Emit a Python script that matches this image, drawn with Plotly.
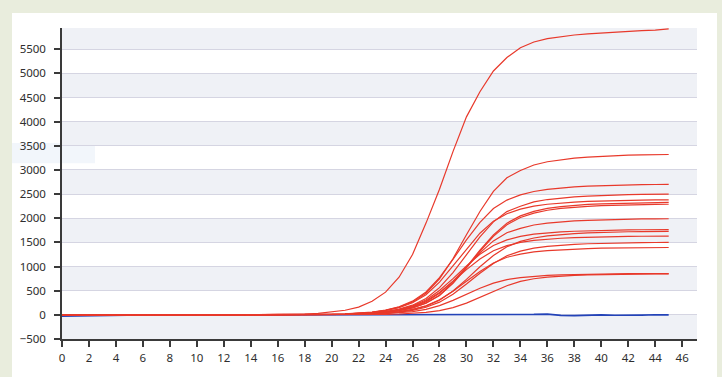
import plotly.graph_objects as go

cycles = list(range(46))

# Amplification curves (fluorescence per cycle)
curve_01 = [-12, -8, -5, -3, -2, -1, 0, 1, 0, -1, 0, 1, 2, 3, 4, 6, 8, 10, 15, 30,
            55, 95, 160, 280, 470, 780, 1250, 1900, 2600, 3380, 4100, 4620, 5050, 5330, 5530, 5650,
            5720, 5765, 5795, 5820, 5840, 5858, 5872, 5885, 5898, 5920]
curve_02 = [-10, -7, -5, -3, -2, -1, 0, 0, 1, 0, 0, 1, 1, 1, 2, 2, 3, 3, 3, 6,
            10, 17, 30, 53, 93, 159, 266, 448, 747, 1162, 1660, 2141, 2556, 2839, 2988, 3104,
            3171, 3214, 3244, 3267, 3283, 3297, 3307, 3313, 3317, 3320]
curve_03 = [-10, -7, -5, -3, -2, -1, 0, 0, 1, 0, 0, 1, 1, 1, 2, 2, 3, 3, 4, 7,
            11, 19, 32, 57, 100, 167, 284, 473, 770, 1148, 1553, 1917, 2201, 2376, 2484, 2554,
            2597, 2627, 2649, 2665, 2676, 2687, 2692, 2696, 2699, 2700]
curve_04 = [-10, -7, -5, -3, -2, -1, 0, 0, 1, 0, 0, 1, 1, 1, 2, 2, 3, 3, 3, 5,
            8, 13, 23, 40, 70, 120, 200, 338, 563, 875, 1250, 1613, 1925, 2138, 2250, 2338,
            2388, 2420, 2443, 2460, 2473, 2483, 2490, 2495, 2498, 2500]
curve_05 = [-10, -7, -5, -3, -2, -1, 0, 0, 1, 0, 0, 1, 1, 1, 2, 2, 3, 3, 4, 7,
            10, 17, 29, 50, 88, 148, 250, 417, 678, 1012, 1369, 1690, 1940, 2094, 2190, 2251,
            2290, 2316, 2335, 2349, 2359, 2368, 2373, 2376, 2379, 2380]
curve_06 = [-10, -7, -5, -3, -2, -1, 0, 0, 1, 0, 0, 1, 1, 1, 2, 2, 3, 3, 2, 3,
            5, 9, 16, 28, 49, 86, 144, 245, 408, 664, 990, 1340, 1654, 1899, 2050, 2144,
            2204, 2241, 2267, 2286, 2300, 2309, 2318, 2323, 2327, 2330]
curve_07 = [-10, -7, -5, -3, -2, -1, 0, 0, 1, 0, 0, 1, 1, 1, 2, 2, 3, 3, 2, 3,
            5, 9, 16, 27, 48, 85, 142, 240, 401, 653, 973, 1317, 1626, 1866, 2015, 2107,
            2166, 2203, 2228, 2246, 2260, 2269, 2279, 2283, 2287, 2290]
curve_08 = [-10, -7, -5, -3, -2, -1, 0, 0, 1, 0, 0, 1, 1, 1, 2, 2, 3, 3, 2, 4,
            6, 10, 18, 32, 56, 96, 159, 269, 448, 697, 995, 1284, 1532, 1701, 1791, 1861,
            1900, 1926, 1944, 1958, 1968, 1976, 1982, 1986, 1988, 1990]
curve_09 = [-10, -7, -5, -3, -2, -1, 0, 0, 1, 0, 0, 1, 1, 1, 2, 2, 3, 3, 3, 5,
            7, 12, 21, 37, 65, 109, 185, 309, 503, 750, 1015, 1253, 1438, 1553, 1624, 1670,
            1698, 1717, 1731, 1742, 1749, 1756, 1760, 1762, 1764, 1765]
curve_10 = [-10, -7, -5, -3, -2, -1, 0, 0, 1, 0, 0, 1, 1, 1, 2, 2, 3, 3, 1, 2,
            3, 7, 12, 21, 36, 64, 107, 182, 303, 493, 735, 995, 1228, 1410, 1522, 1592,
            1637, 1664, 1683, 1697, 1708, 1714, 1721, 1725, 1727, 1730]
curve_11 = [-10, -7, -5, -3, -2, -1, 0, 0, 1, 0, 0, 1, 1, 1, 2, 2, 3, 3, 2, 4,
            7, 11, 20, 34, 60, 101, 171, 285, 465, 693, 937, 1157, 1328, 1434, 1500, 1542,
            1568, 1586, 1599, 1609, 1615, 1622, 1625, 1628, 1629, 1630]
curve_12 = [-10, -7, -5, -3, -2, -1, 0, 0, 1, 0, 0, 1, 1, 1, 2, 2, 3, 3, 1, 2,
            3, 6, 11, 18, 32, 56, 93, 158, 263, 428, 638, 863, 1065, 1223, 1320, 1380,
            1419, 1443, 1460, 1472, 1481, 1487, 1493, 1496, 1498, 1500]
curve_13 = [-10, -7, -5, -3, -2, -1, 0, 0, 1, 0, 0, 1, 1, 1, 2, 2, 3, 3, 1, 2,
            4, 7, 13, 22, 39, 67, 112, 188, 314, 488, 698, 900, 1074, 1193, 1256, 1304,
            1332, 1350, 1363, 1373, 1380, 1385, 1389, 1392, 1394, 1395]
curve_14 = [-10, -7, -5, -3, -2, -1, 0, 0, 1, 0, 0, 1, 1, 1, 2, 2, 3, 3, 1, 2,
            3, 4, 8, 14, 24, 41, 68, 115, 192, 299, 428, 551, 658, 731, 770, 799,
            817, 828, 835, 841, 846, 849, 852, 853, 854, 855]
curve_15 = [-10, -7, -5, -3, -2, -1, 0, 0, 1, 0, 0, 1, 1, 1, 2, 2, 3, 3, 0, 1,
            1, 2, 3, 6, 10, 18, 31, 53, 89, 149, 242, 361, 489, 604, 693, 748,
            782, 804, 818, 827, 834, 839, 842, 846, 847, 849]
negative_ctrl = [-28, -22, -15, -10, -6, -4, -3, -2, -2, -1, 0, -1, 0, 1, -2, -1, 0, 1, 0, -1,
                 0, 1, 2, 1, 0, -1, 0, 1, 2, 0, -1, 1, 2, 3, 5, 8, 15, -10, -15, -5,
                 0, -8, -12, -5, 2, 0]

red_curves = [curve_01, curve_02, curve_03, curve_04, curve_05, curve_06, curve_07, curve_08,
              curve_09, curve_10, curve_11, curve_12, curve_13, curve_14, curve_15]

y_ticks = list(range(-500, 6000, 500))
x_ticks = list(range(0, 47, 2))
y_range = [-500, 5940]
x_range = [0, 47.1]

RED = "#e8392b"
BLUE = "#2343b8"
GREEN_BG = "#e9eddd"

fig = go.Figure()
fig.add_trace(go.Scatter(x=cycles, y=negative_ctrl, mode="lines",
                         line=dict(color=BLUE, width=1.7), showlegend=False))
for c in red_curves:
    fig.add_trace(go.Scatter(x=cycles, y=c, mode="lines",
                             line=dict(color=RED, width=1.2), showlegend=False))

shapes = []
# outer white panel
shapes.append(dict(type="rect", xref="paper", yref="paper", x0=-0.0787, x1=1.0315,
                   y0=-0.2, y1=1.048, fillcolor="white", line=dict(width=0), layer="below"))
# faint highlight near left labels
shapes.append(dict(type="rect", xref="paper", yref="paper", x0=-0.0787, x1=0.052,
                   y0=0.565, y1=0.63, fillcolor="#f2f6fb", line=dict(width=0), layer="below"))
# corner triangle decoration
shapes.append(dict(type="path", xref="paper", yref="paper",
                   path="M 1.0425 1.0895 L 1.0535 1.0895 L 1.0535 1.062 Z",
                   fillcolor="#c9dcaa", line=dict(width=0), layer="below"))
# alternating bands
for v in y_ticks[::2]:
    shapes.append(dict(type="rect", xref="paper", yref="y", x0=0, x1=1,
                       y0=v, y1=min(v + 500, y_range[1]), fillcolor="#eff1f6",
                       line=dict(width=0), layer="below"))

fig.update_layout(
    width=722, height=377,
    margin=dict(l=62, r=25, t=28, b=36),
    paper_bgcolor=GREEN_BG,
    plot_bgcolor="rgba(0,0,0,0)",
    shapes=shapes,
    font=dict(family="Noto Sans, Open Sans, sans-serif", size=11.5, color="#2e2e2e"),
    showlegend=False,
)
fig.update_xaxes(range=x_range, tickvals=x_ticks, showgrid=False, zeroline=False,
                 showline=True, linecolor="#3a3a3a", linewidth=1.5,
                 ticks="outside", ticklen=6, tickwidth=1.5, tickcolor="#3a3a3a",
                 ticklabelstandoff=1)
fig.update_yaxes(range=y_range, tickvals=y_ticks, showgrid=True, gridcolor="#d5d5e2",
                 gridwidth=1, zeroline=False,
                 showline=True, linecolor="#3a3a3a", linewidth=1.5,
                 ticks="outside", ticklen=6, tickwidth=1.5, tickcolor="#3a3a3a",
                 ticklabelstandoff=6)

fig.write_html("out.html", config={"displayModeBar": False},
               post_script="document.body.style.margin='0';document.body.style.background='%s';" % GREEN_BG)
